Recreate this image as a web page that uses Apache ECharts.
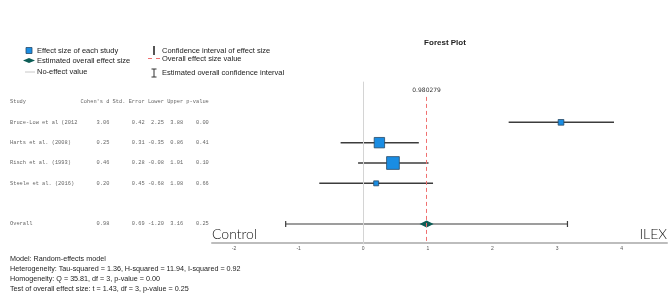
<!DOCTYPE html>
<html>
<head>
<meta charset="utf-8">
<script src="https://cdn.jsdelivr.net/npm/echarts@6/dist/echarts.min.js"></script>
<style>
  html, body { margin: 0; padding: 0; background: #fff; }
  #chart { width: 669px; height: 294px; }
</style>
</head>
<body>
<div id="chart"></div>
<script>
// study level results
const studies = ["Bruce-Low et al (2012", "Harts et al. (2008)", "Risch et al. (1993)", "Steele et al. (2016)"];
const cohensD = [3.06, 0.25, 0.46, 0.2];
const stdError = [0.42, 0.31, 0.28, 0.45];
const lowerCI = [2.25, -0.35, -0.08, -0.68];
const upperCI = [3.88, 0.86, 1.01, 1.08];
const pValues = [0.0, 0.41, 0.1, 0.66];

// overall (random effects)
const overallD = 0.98;
const overallSE = 0.69;
const overallLower = -1.2;
const overallUpper = 3.16;
const overallP = 0.25;
const overallExact = 0.980279;

const xTicks = [-2, -1, 0, 1, 2, 3, 4];

const statsLines = [
  "Model: Random-effects model",
  "Heterogeneity: Tau-squared = 1.36, H-squared = 11.94, I-squared = 0.92",
  "Homogeneity: Q = 35.81, df = 3, p-value = 0.00",
  "Test of overall effect size: t = 1.43, df = 3, p-value = 0.25",
];

// table text, monospace columns
const fmt = (v) => v.toFixed(2);
const header = "Study".padEnd(22) + "Cohen's d" + " Std. Error" + " Lower" + " Upper" + " p-value";
const makeRow = (name, d, se, lo, up, p) =>
  name.padEnd(22) + fmt(d).padStart(9) + fmt(se).padStart(11) + fmt(lo).padStart(6) + fmt(up).padStart(6) + fmt(p).padStart(8);
const tableRows = [header];
studies.forEach((s, i) => tableRows.push(makeRow(s, cohensD[i], stdError[i], lowerCI[i], upperCI[i], pValues[i])));
tableRows.push("");
tableRows.push(makeRow("Overall", overallD, overallSE, overallLower, overallUpper, overallP));

const overallRow = 6;

const chart = echarts.init(document.getElementById("chart"));

const textColor = "#222";
const blue = "#1a8de3";
const teal = "#0c5d56";
const red = "#f07070";

const option = {
  animation: false,
  backgroundColor: "#fff",
  title: {
    text: "Forest Plot",
    left: 440,
    top: 34,
    textAlign: "center",
    textStyle: { fontSize: 8, fontWeight: "bold", color: textColor, fontFamily: "Liberation Sans" },
  },
  grid: {
    left: 212,
    right: 2,
    top: 81.67,
    bottom: 49.67,
    containLabel: false,
  },
  xAxis: {
    type: "value",
    min: -2.34,
    max: 4.7,
    offset: -2,
    axisLine: { show: true, onZero: false, lineStyle: { color: "#bdbdbd", width: 2 } },
    axisTick: { show: false },
    splitLine: { show: false },
    axisLabel: {
      customValues: xTicks,
      fontSize: 5,
      color: "#555",
      margin: 4,
      fontFamily: "Liberation Sans",
    },
  },
  yAxis: {
    type: "value",
    inverse: true,
    min: -1,
    max: 7,
    interval: 1,
    axisLine: { show: false, onZero: false },
    axisTick: { show: false },
    splitLine: { show: false },
    axisLabel: {
      align: "left",
      margin: 202,
      fontSize: 5.35,
      color: "#666",
      fontFamily: "Liberation Mono",
      formatter: (v) => (v >= 0 && v < tableRows.length ? tableRows[v] : ""),
    },
  },
  series: [
    {
      // reference lines
      type: "custom",
      z: 1,
      data: [],
      renderItem: () => null,
      markLine: {
        silent: true,
        symbol: "none",
        animation: false,
        data: [
          {
            xAxis: 0,
            lineStyle: { color: "#d4d4d4", width: 1, type: "solid" },
            label: { show: false },
          },
          [
            {
              coord: [overallExact, -0.25],
              lineStyle: { color: red, width: 1, type: [4, 3] },
              label: {
                show: true,
                position: "start",
                distance: 3,
                formatter: String(overallExact),
                fontSize: 6,
                color: "#333",
                fontFamily: "DejaVu Sans",
              },
            },
            { coord: [overallExact, 6.9] },
          ],
        ],
      },
    },
    {
      // confidence intervals for studies
      type: "custom",
      z: 2,
      data: studies.map((s, i) => [i + 1, lowerCI[i], upperCI[i]]),
      encode: { x: [1, 2], y: 0 },
      renderItem: (params, api) => {
        const y = api.value(0);
        const a = api.coord([api.value(1), y]);
        const b = api.coord([api.value(2), y]);
        return {
          type: "line",
          shape: { x1: a[0], y1: a[1], x2: b[0], y2: b[1] },
          style: { stroke: "#3c3c3c", lineWidth: 1.5 },
        };
      },
    },
    {
      // overall confidence interval with caps
      type: "custom",
      z: 2,
      data: [[overallRow, overallLower, overallUpper]],
      encode: { x: [1, 2], y: 0 },
      renderItem: (params, api) => {
        const y = api.value(0);
        const a = api.coord([api.value(1), y]);
        const b = api.coord([api.value(2), y]);
        const st = { stroke: "#3c3c3c", lineWidth: 1.2 };
        return {
          type: "group",
          children: [
            { type: "line", shape: { x1: a[0], y1: a[1], x2: b[0], y2: b[1] }, style: st },
            { type: "line", shape: { x1: a[0], y1: a[1] - 3, x2: a[0], y2: a[1] + 3 }, style: st },
            { type: "line", shape: { x1: b[0], y1: b[1] - 3, x2: b[0], y2: b[1] + 3 }, style: st },
          ],
        };
      },
    },
    {
      // study effect sizes, square size from precision
      type: "scatter",
      z: 3,
      symbol: "rect",
      data: studies.map((s, i) => [cohensD[i], i + 1, 1 / (stdError[i] * stdError[i])]),
      symbolSize: (v) => v[2],
      itemStyle: { color: blue, borderColor: "#2a4a66", borderWidth: 0.8, opacity: 1 },
    },
    {
      // overall effect
      type: "scatter",
      z: 4,
      symbol: "diamond",
      symbolSize: [14, 7],
      data: [[overallD, overallRow]],
      itemStyle: { color: teal, opacity: 1 },
    },
  ],
  graphic: [
    // axis end labels
    { type: "text", x: 212, y: 241, style: { text: "Control", fontSize: 14, fontFamily: "Lato", fontWeight: 300, fill: "#111", textAlign: "left", textVerticalAlign: "bottom", align: "left", verticalAlign: "bottom" } },
    { type: "text", x: 667, y: 241, style: { text: "ILEX", fontSize: 14, fontFamily: "Lato", fontWeight: 300, fill: "#111", textAlign: "right", textVerticalAlign: "bottom", align: "right", verticalAlign: "bottom" } },
    // legend symbols
    { type: "rect", shape: { x: 26, y: 47.5, width: 6, height: 6 }, style: { fill: blue, stroke: "#2a4a66", lineWidth: 0.8 } },
    { type: "polygon", shape: { points: [[23, 60.5], [29, 58], [35, 60.5], [29, 63]] }, style: { fill: teal } },
    { type: "line", shape: { x1: 25, y1: 72, x2: 35, y2: 72 }, style: { stroke: "#c8c8c8", lineWidth: 1 } },
    { type: "line", shape: { x1: 154, y1: 46, x2: 154, y2: 55 }, style: { stroke: "#555", lineWidth: 2 } },
    { type: "line", shape: { x1: 148, y1: 58.5, x2: 163, y2: 58.5 }, style: { stroke: red, lineWidth: 1, lineDash: [4, 4] } },
    { type: "line", shape: { x1: 154, y1: 69, x2: 154, y2: 77 }, style: { stroke: "#333", lineWidth: 1 } },
    { type: "line", shape: { x1: 151.5, y1: 69, x2: 156.5, y2: 69 }, style: { stroke: "#333", lineWidth: 1 } },
    { type: "line", shape: { x1: 151.5, y1: 77, x2: 156.5, y2: 77 }, style: { stroke: "#333", lineWidth: 1 } },
    // legend texts
    ...[
      ["Effect size of each study", 37, 50.5],
      ["Estimated overall effect size", 37, 60.5],
      ["No-effect value", 37, 72],
      ["Confidence interval of effect size", 162, 50.5],
      ["Overall effect size value", 162, 59],
      ["Estimated overall confidence interval", 162, 72.5],
    ].map(([t, x, y]) => ({
      type: "text",
      x,
      y,
      style: { text: t, fontSize: 7.5, fontFamily: "Liberation Sans", fill: textColor, textAlign: "left", textVerticalAlign: "middle", align: "left", verticalAlign: "middle" },
    })),
    // model statistics
    {
      type: "text",
      x: 10,
      y: 254.5,
      style: {
        text: statsLines.join("\n"),
        fontSize: 7.2,
        lineHeight: 9.8,
        fontFamily: "Liberation Sans",
        fill: textColor,
        textAlign: "left",
        textVerticalAlign: "top",
        align: "left",
        verticalAlign: "top",
      },
    },
  ],
};

chart.setOption(option);
</script>
</body>
</html>
